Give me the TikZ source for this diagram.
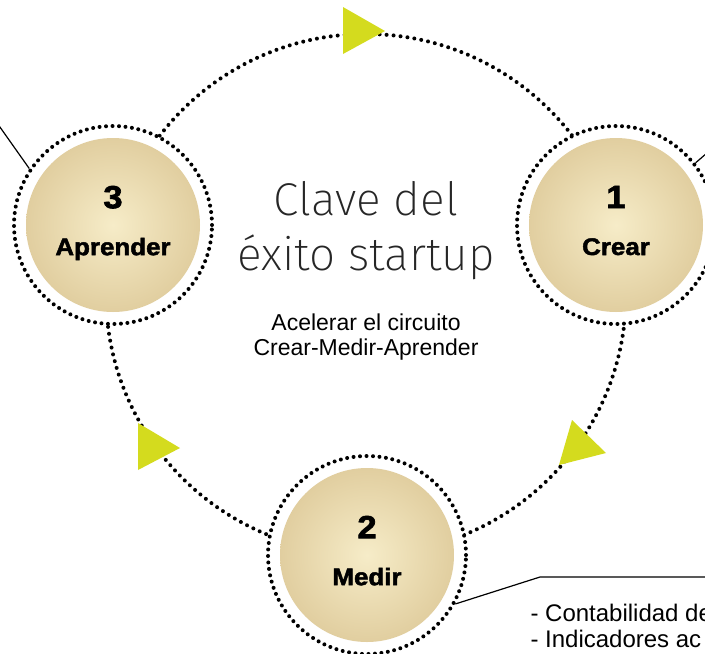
\documentclass[tikz,border=0pt]{standalone}
\usepackage{fontspec}
\setmainfont{Liberation Sans}
\IfFontExistsTF{Fira Sans ExtraLight}
  {\newfontfamily\thinfont{Fira Sans ExtraLight}}
  {\newfontfamily\thinfont{Liberation Sans}}
\newfontfamily\heavyfont{Liberation Sans}[BoldFeatures={FakeBold=2,FakeStretch=1.08}]
\usetikzlibrary{positioning}

\definecolor{arrowyellow}{RGB}{212,219,30}
\definecolor{creamin}{RGB}{246,236,200}
\definecolor{creamout}{RGB}{222,202,154}

\begin{document}
\begin{tikzpicture}[x=1pt,y=-1pt,
stage/.style={circle,minimum size=198pt,inner sep=0pt,fill=white,
  draw=black,line width=4pt,dash pattern=on 0pt off 6.5pt,line cap=round,
  path picture={\shade[inner color=creamin,outer color=creamout]
    (path picture bounding box.center) circle (87pt);},
  align=center,text depth=9pt,
  font=\heavyfont\bfseries\fontsize{24}{30}\selectfont},
cycleline/.style={line width=4pt,dash pattern=on 0pt off 7pt,line cap=round},
callout/.style={line width=1.2pt},
arrowhead/.style={fill=arrowyellow},
title/.style={align=center,font=\thinfont\fontsize{46}{55}\selectfont,text=black!85},
subtitle/.style={align=center,font=\fontsize{23}{25}\selectfont},
note/.style={align=left,font=\fontsize{24}{26}\selectfont}]

\useasboundingbox (0,0) rectangle (705,654);
\clip (0,0) rectangle (705,654);

% circuito
\draw[cycleline] (366,294) circle (260);

\fill[arrowhead] (343,7) -- (343,54) -- (385,31) -- cycle;
\fill[arrowhead] (572,420) -- (559,465) -- (606,453) -- cycle;
\fill[arrowhead] (138,423) -- (138,470) -- (180,448) -- cycle;

% etapas
\node[stage] (crear) at (616,225) {{\fontsize{32}{32}\selectfont 1}\\[17pt]Crear};
\node[stage] (medir) at (367,555) {{\fontsize{32}{32}\selectfont 2}\\[17pt]Medir};
\node[stage] (aprender) at (113,225) {{\fontsize{32}{32}\selectfont 3}\\[17pt]Aprender};

% centro (anchor base = ultima linea)
\node[title,anchor=base] (titulo) at (366,270) {Clave del\\éxito startup};
\node[subtitle,anchor=base] (circuito) at (366,355) {Acelerar el circuito\\Crear-Medir-Aprender};

% llamadas
\coordinate (aprender-end) at (-10,113);
\coordinate (crear-end) at (714,147);
\coordinate (medir-knee) at (540,577);
\coordinate (medir-end) at (720,577);
\draw[callout] (aprender.146) -- (aprender-end);
\draw[callout] (crear.38) -- (crear-end);
\draw[callout] (medir.-29) -- (medir-knee) -- (medir-end);

\node[note,anchor=base west] (notas) at (527,647) {- Contabilidad de\\- Indicadores ac};

\end{tikzpicture}
\end{document}
